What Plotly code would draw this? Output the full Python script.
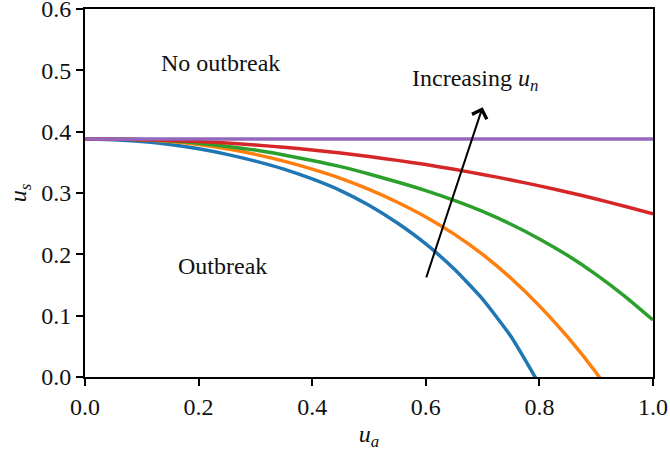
import plotly.graph_objects as go

ua = [0.0, 0.05, 0.1, 0.15, 0.2, 0.25, 0.3, 0.35, 0.4, 0.45, 0.5,
      0.55, 0.6, 0.65, 0.7, 0.75, 0.8, 0.85, 0.9, 0.95, 1.0]

us_blue = [0.388, 0.387, 0.384, 0.379, 0.372, 0.363, 0.352, 0.339, 0.323, 0.304, 0.280,
           0.251, 0.217, 0.176, 0.127, 0.066, -0.012]
us_orange = [0.388, 0.388, 0.387, 0.384, 0.379, 0.372, 0.363, 0.352, 0.339, 0.324, 0.306,
             0.285, 0.261, 0.233, 0.200, 0.161, 0.116, 0.065, 0.007, -0.059]
us_green = [0.388, 0.388, 0.387, 0.385, 0.381, 0.376, 0.370, 0.362, 0.353, 0.343, 0.331,
            0.318, 0.304, 0.288, 0.270, 0.249, 0.225, 0.198, 0.167, 0.132, 0.093]
us_red = [0.388, 0.3878, 0.3870, 0.3857, 0.3839, 0.3814, 0.3783, 0.3745, 0.3702, 0.3652, 0.3595,
          0.3532, 0.3463, 0.3386, 0.3303, 0.3213, 0.3116, 0.3013, 0.2902, 0.2784, 0.266]
us_purple = [0.388] * len(ua)

series = [
    (us_blue, "#1f77b4"),
    (us_orange, "#ff7f0e"),
    (us_green, "#2ca02c"),
    (us_red, "#d62728"),
    (us_purple, "#9467bd"),
]

x_ticks = [0.0, 0.2, 0.4, 0.6, 0.8, 1.0]
y_ticks = [0.0, 0.1, 0.2, 0.3, 0.4, 0.5, 0.6]

arrow_tail = (0.6, 0.16)
arrow_head = (0.7, 0.44)

FONT = "Liberation Serif, Times New Roman, serif"
TXT = "#111111"
fnt = dict(family=FONT, size=24, color=TXT)

fig = go.Figure()
for ys, col in series:
    fig.add_trace(go.Scatter(x=ua[:len(ys)], y=ys, mode="lines",
                             line=dict(color=col, width=3.5, shape="spline", smoothing=0.5),
                             showlegend=False, hoverinfo="skip"))

fig.add_annotation(x=arrow_head[0], y=arrow_head[1], ax=arrow_tail[0], ay=arrow_tail[1],
                   xref="x", yref="y", axref="x", ayref="y", showarrow=True,
                   arrowhead=4, arrowsize=1.5, arrowwidth=2, arrowcolor="black",
                   standoff=0, text="")
fig.add_annotation(x=0.13, y=0.512, text="No outbreak", showarrow=False,
                   xanchor="left", yanchor="middle", font=fnt)
fig.add_annotation(x=0.16, y=0.181, text="Outbreak", showarrow=False,
                   xanchor="left", yanchor="middle", font=fnt)
fig.add_annotation(x=0.572, y=0.484, text="Increasing <i>u</i><sub><i>n</i></sub>",
                   showarrow=False, xanchor="left", yanchor="middle", font=fnt)

axis_common = dict(showline=True, linecolor="black", linewidth=1.8, mirror=True,
                   ticks="outside", ticklen=7, tickwidth=1.6, tickcolor="black",
                   showgrid=False, zeroline=False, tickformat=".1f",
                   tickfont=fnt, automargin=False, ticklabeloverflow="allow")

fig.update_xaxes(range=[0, 1], tickvals=x_ticks,
                 title=dict(text="<i>u</i><sub><i>a</i></sub>", font=fnt, standoff=6),
                 **axis_common)
fig.update_yaxes(range=[0, 0.6], tickvals=y_ticks,
                 title=dict(text="<i>u</i><sub><i>s</i></sub>", font=fnt, standoff=8),
                 **axis_common)

fig.update_layout(width=670, height=454, margin=dict(l=85, r=17, t=9, b=77, autoexpand=False),
                  plot_bgcolor="white", paper_bgcolor="white", font=fnt)

fig.write_html("out.html")
